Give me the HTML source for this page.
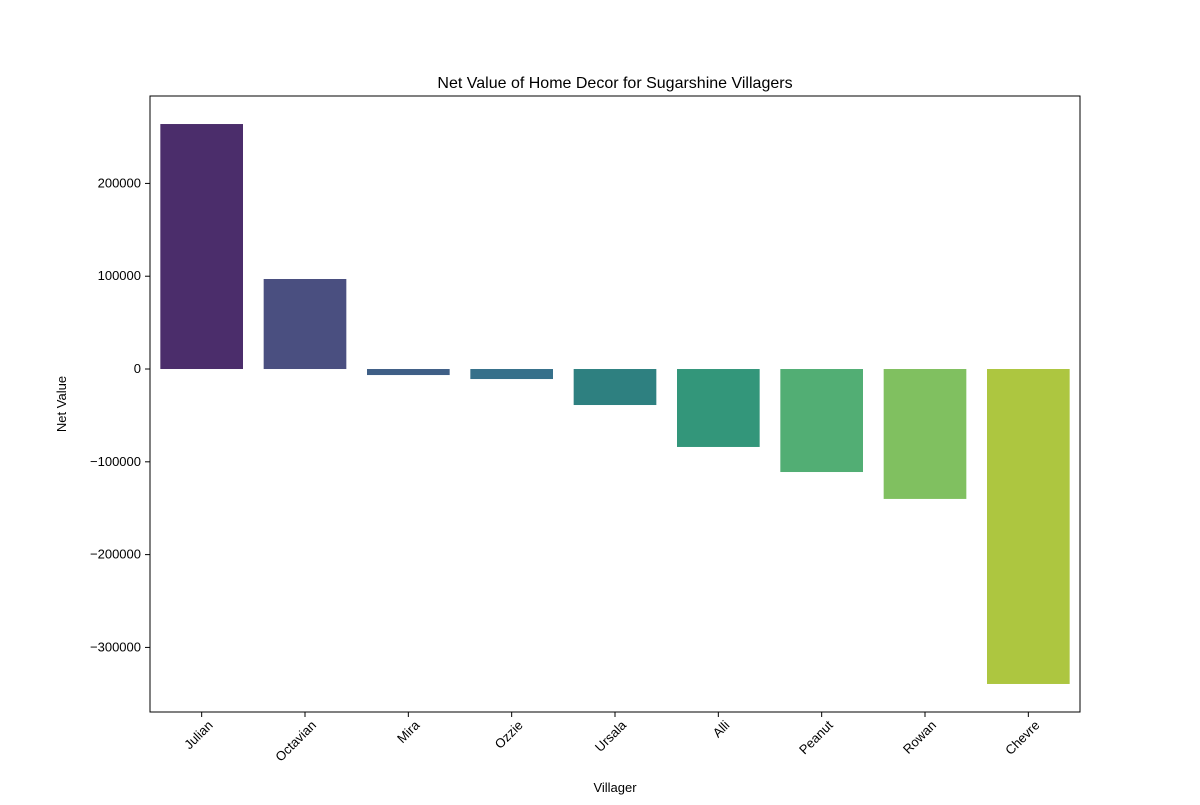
<!DOCTYPE html>
<html><head><meta charset="utf-8"><style>body{margin:0;background:#fff}svg{font-family:"Liberation Sans",sans-serif}</style></head>
<body>
<svg id="c" width="1200" height="800"></svg>
<script>
const categories=["Julian","Octavian","Mira","Ozzie","Ursala","Alli","Peanut","Rowan","Chevre"];
const values=[264000,97000,-6500,-10800,-38800,-84000,-111000,-140000,-339400];
const colors=["#4b2d6b","#4a4f80","#3f5f86","#36708a","#2e8080","#33967a","#52ae74","#80c060","#adc640"];
const yTicks=[-300000,-200000,-100000,0,100000,200000];
const yMin=-369600,yMax=294200;
const L=150,R=1080,T=96,B=712;
const ns="http://www.w3.org/2000/svg",svg=document.getElementById('c');
function y(v){return B-(v-yMin)/(yMax-yMin)*(B-T);}
const bw=(R-L)/categories.length;
function x(i){return L+bw*i;}
function mk(t,a,txt){const e=document.createElementNS(ns,t);for(const k in a)e.setAttribute(k,a[k]);if(txt!==undefined)e.textContent=txt;svg.appendChild(e);return e;}
values.forEach((v,i)=>{const r=mk('rect',{x:x(i)+bw*0.1,y:Math.min(y(v),y(0)),width:bw*0.8,height:Math.abs(y(v)-y(0)),fill:colors[i]});

});
yTicks.forEach(t=>{mk('line',{x1:L-5,x2:L,y1:y(t),y2:y(t),stroke:'#000'});
const e=mk('text',{x:L-9,y:y(t)+4,'text-anchor':'end','font-size':13},t<0?'\u2212'+(-t):String(t));

});
categories.forEach((c,i)=>{const cx=x(i)+bw/2;mk('line',{x1:cx,x2:cx,y1:B,y2:B+5,stroke:'#000'});
const ax=cx+12,ay=B+14;
const e=mk('text',{x:ax,y:ay,'text-anchor':'end','font-size':13,transform:`rotate(-45 ${ax} ${ay})`},c);

});
const f=mk('rect',{x:L,y:T,width:R-L,height:B-T,fill:'none',stroke:'#000'});


let e=mk('text',{x:615,y:88,'text-anchor':'middle','font-size':16},'Net Value of Home Decor for Sugarshine Villagers');


e=mk('text',{x:615,y:792,'text-anchor':'middle','font-size':13},'Villager');


e=mk('text',{x:66,y:404,'text-anchor':'middle','font-size':13,transform:'rotate(-90 66 404)'},'Net Value');


</script>
</body></html>
